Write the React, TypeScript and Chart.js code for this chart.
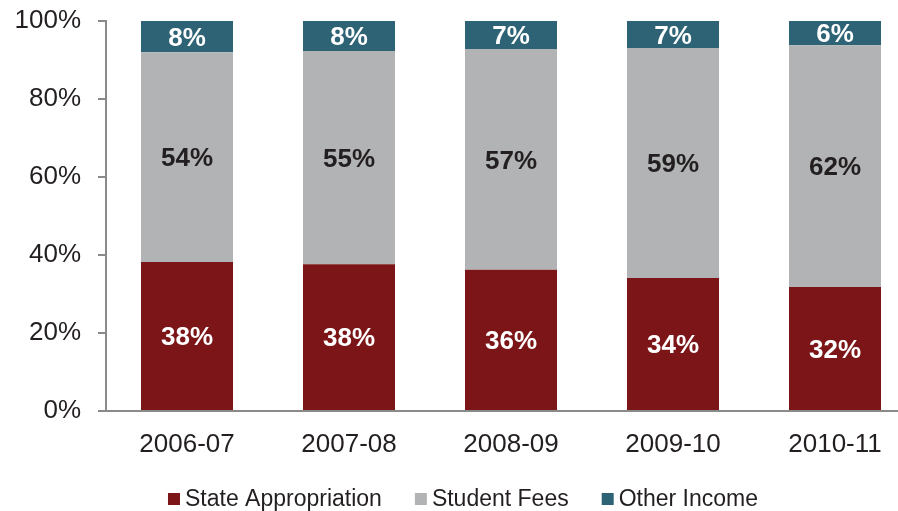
import React, { useEffect, useRef } from 'react';
import { Chart, registerables } from 'chart.js';

Chart.register(...registerables);

const categories = ['2006-07', '2007-08', '2008-09', '2009-10', '2010-11'];
const stateAppropriation = [38.2, 37.6, 36.2, 34.1, 31.8];
const studentFees = [53.8, 54.7, 56.6, 59.0, 62.0];
const otherIncome = [8.0, 7.7, 7.2, 6.9, 6.2];
const seriesNames = ['State Appropriation', 'Student Fees', 'Other Income'];
const yMin = 0;
const yMax = 100;
const yStep = 20;

const seriesColors = ['#7B1517', '#B2B3B5', '#2E6375'];
const valueLabelColors = ['#FFFFFF', '#231F20', '#FFFFFF'];
const FONT = "'Liberation Sans', Arial, Helvetica, sans-serif";
const TEXT = '#231F20';
const AXIS = '#8A8A8A';

const valueLabelsPlugin = {
  id: 'valueLabels',
  afterDatasetsDraw(chart: any) {
    const ctx = chart.ctx;
    ctx.save();
    ctx.font = `bold 26px ${FONT}`;
    ctx.textAlign = 'center';
    ctx.textBaseline = 'middle';
    chart.data.datasets.forEach((ds: any, i: number) => {
      const meta = chart.getDatasetMeta(i);
      meta.data.forEach((el: any, j: number) => {
        const p = el.getProps(['x', 'y', 'base'], true);
        ctx.fillStyle = valueLabelColors[i];
        ctx.fillText(Math.round(ds.data[j]) + '%', p.x, (p.y + p.base) / 2 + 2);
      });
    });
    ctx.restore();
  },
};

const legendPlugin = {
  id: 'customLegend',
  afterDraw(chart: any) {
    const ctx = chart.ctx;
    ctx.save();
    ctx.font = `23px ${FONT}`;
    ctx.textBaseline = 'middle';
    ctx.textAlign = 'left';
    const box = 12;
    const gap = 5;
    const spacing = 33;
    const centerX = 463;
    const y = 499;
    const widths = seriesNames.map((n) => box + gap + ctx.measureText(n).width);
    const total = widths.reduce((a, b) => a + b, 0) + spacing * (seriesNames.length - 1);
    let x = centerX - total / 2;
    seriesNames.forEach((n, i) => {
      ctx.fillStyle = seriesColors[i];
      ctx.fillRect(x, y - box / 2, box, box);
      ctx.fillStyle = TEXT;
      ctx.fillText(n, x + box + gap, y + 1);
      x += widths[i] + spacing;
    });
    ctx.restore();
  },
};

export default function App() {
  const ref = useRef<HTMLCanvasElement>(null);

  useEffect(() => {
    if (!ref.current) return;
    const series = [stateAppropriation, studentFees, otherIncome];
    const chart = new Chart(ref.current, {
      type: 'bar',
      data: {
        labels: categories,
        datasets: series.map((d, i) => ({
          label: seriesNames[i],
          data: d,
          backgroundColor: seriesColors[i],
          borderWidth: 0,
          barPercentage: 1,
          categoryPercentage: 0.568,
        })),
      },
      options: {
        responsive: false,
        animation: false,
        layout: { padding: { left: 0, right: 14, top: 21, bottom: 50 } },
        plugins: {
          legend: { display: false },
          tooltip: { enabled: false },
        },
        scales: {
          x: {
            stacked: true,
            grid: { display: false, drawTicks: false },
            border: { display: true, color: AXIS, width: 2 },
            ticks: {
              color: TEXT,
              font: { family: FONT, size: 26 },
              padding: 18,
              maxRotation: 0,
            },
            afterFit(scale: any) {
              scale.height = 50;
              scale.paddingLeft = 0;
              scale.paddingRight = 0;
            },
          },
          y: {
            stacked: true,
            min: yMin,
            max: yMax,
            grid: {
              drawOnChartArea: false,
              drawTicks: true,
              tickLength: 8,
              color: AXIS,
              lineWidth: 2,
            },
            border: { display: true, color: AXIS, width: 2 },
            ticks: {
              stepSize: yStep,
              color: TEXT,
              font: { family: FONT, size: 26 },
              padding: 17,
              callback: (v: any) => v + '%',
            },
            afterFit(scale: any) {
              scale.width = 106;
              scale.paddingTop = 0;
              scale.paddingBottom = 0;
            },
          },
        },
      },
      plugins: [valueLabelsPlugin, legendPlugin],
    });
    return () => chart.destroy();
  }, []);

  return (
    <div
      style={{
        position: 'fixed',
        left: 0,
        top: 0,
        width: 898,
        height: 511,
        overflow: 'hidden',
        background: '#FFFFFF',
      }}
    >
      <canvas ref={ref} width={930} height={511} style={{ width: 930, height: 511, display: 'block' }} />
    </div>
  );
}
